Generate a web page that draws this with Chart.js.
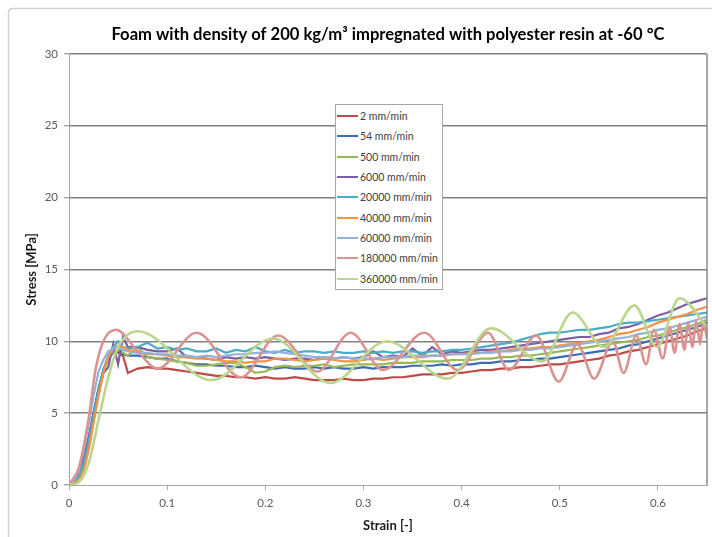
<!DOCTYPE html>
<html>
<head>
<meta charset="utf-8">
<script src="https://cdn.jsdelivr.net/npm/chart.js@4.4.1/dist/chart.umd.min.js"></script>
<style>
  html, body { margin: 0; padding: 0; background: #fff; }
  #wrap { position: relative; width: 712px; height: 537px; }
  #legend {
    position: absolute; left: 335px; top: 104px; width: 108px; height: 186px;
    box-sizing: border-box; border: 1px solid #a6a6a6; background: #fff;
    font: 10.5px Lato, sans-serif; color: #404040; padding-top: 1px;
  }
  .row { height: 20.3px; display: flex; align-items: center; white-space: nowrap; }
  .swatch { width: 21px; height: 2px; margin: 0 2px 0 1px; }
</style>
</head>
<body>
<div id="wrap">
  <canvas id="chart" width="712" height="537"></canvas>
  <div id="legend"></div>
</div>
<script>
// strain grid shared by the smoother curves
const strain = [0, 0.005, 0.01, 0.015, 0.02, 0.025, 0.03, 0.035, 0.04, 0.045, 0.05, 0.055, 0.06,
  0.07, 0.08, 0.09, 0.10, 0.11, 0.12, 0.13, 0.14, 0.15, 0.16,
  0.17, 0.18, 0.19, 0.20, 0.21, 0.22, 0.23, 0.24, 0.25, 0.26,
  0.27, 0.28, 0.29, 0.30, 0.31, 0.32, 0.33, 0.34, 0.35, 0.36,
  0.37, 0.38, 0.39, 0.40, 0.41, 0.42, 0.43, 0.44, 0.45, 0.46,
  0.47, 0.48, 0.49, 0.50, 0.51, 0.52, 0.53, 0.54, 0.55, 0.56,
  0.57, 0.58, 0.59, 0.60, 0.61, 0.62, 0.63, 0.64, 0.65];

const stress2 = [0, 0.2, 0.5, 1.3, 2.8, 4.8, 6.6, 8.0, 8.9, 9.4, 9.2, 9.0, 7.8,
  8.1, 8.2, 8.1, 8.1, 8.0, 7.9, 7.8, 7.7, 7.6, 7.6,
  7.5, 7.5, 7.4, 7.5, 7.4, 7.4, 7.5, 7.4, 7.3, 7.3,
  7.3, 7.4, 7.3, 7.3, 7.4, 7.4, 7.5, 7.5, 7.6, 7.7,
  7.7, 7.7, 7.8, 7.8, 7.9, 8.0, 8.0, 8.1, 8.1, 8.2,
  8.2, 8.3, 8.4, 8.4, 8.5, 8.6, 8.7, 8.8, 9.0, 9.1,
  9.3, 9.4, 9.6, 9.8, 10.0, 10.2, 10.4, 10.7, 10.9];

const stress54 = [0, 0.3, 0.8, 1.8, 3.2, 5.0, 6.7, 8.0, 8.8, 9.2, 9.3, 9.1, 9.0,
  9.0, 8.9, 8.8, 8.8, 8.6, 8.5, 8.4, 8.4, 8.3, 8.3,
  8.2, 8.2, 8.3, 8.2, 8.1, 8.2, 8.1, 8.1, 8.2, 8.1,
  8.2, 8.1, 8.1, 8.2, 8.1, 8.2, 8.2, 8.2, 8.3, 8.3,
  8.3, 8.4, 8.3, 8.4, 8.4, 8.5, 8.5, 8.6, 8.6, 8.7,
  8.7, 8.8, 8.8, 8.9, 9.0, 9.1, 9.2, 9.3, 9.4, 9.5,
  9.7, 9.8, 10.0, 10.2, 10.4, 10.6, 10.8, 11.0, 11.3];

const stress500 = [0, 0.2, 0.5, 1.2, 2.6, 4.5, 6.3, 7.8, 8.8, 9.3, 9.4, 9.2, 9.0,
  9.6, 8.9, 8.8, 8.7, 8.6, 8.5, 8.3, 8.3, 8.4, 8.5,
  8.5, 8.2, 7.8, 7.9, 8.2, 8.3, 8.2, 8.3, 8.3, 8.4,
  8.2, 8.3, 8.4, 8.4, 8.4, 8.4, 8.5, 8.5, 8.5, 8.6,
  8.6, 8.6, 8.7, 8.7, 8.7, 8.8, 8.8, 8.9, 8.9, 9.0,
  9.0, 9.1, 9.2, 9.3, 9.4, 9.5, 9.6, 9.7, 9.8, 9.9,
  10.0, 10.1, 10.3, 10.4, 10.6, 10.8, 11.0, 11.2, 11.5];

const stress6000 = [0, 0.5, 1.0, 1.9, 3.3, 5.0, 6.6, 7.8, 8.2, 9.8, 8.4, 10.3, 9.6,
  9.6, 9.4, 9.3, 9.3, 9.5, 8.9, 8.9, 8.8, 8.7, 8.9,
  8.8, 8.9, 8.8, 8.9, 8.8, 8.7, 8.8, 8.8, 8.7, 8.9,
  8.8, 8.9, 8.8, 8.9, 9.3, 8.9, 9.0, 8.9, 9.5, 9.0,
  9.6, 9.1, 9.3, 9.2, 9.3, 9.4, 9.4, 9.5, 9.6, 9.7,
  9.8, 9.9, 10.0, 10.1, 10.2, 10.3, 10.3, 10.5, 10.6, 10.9,
  11.0, 11.2, 11.5, 11.8, 12.0, 12.3, 12.6, 12.8, 13.0];

const stress20000 = [0, 0.2, 0.6, 1.5, 3.0, 4.8, 6.5, 8.0, 9.0, 9.6, 10.0, 9.6, 9.5,
  9.6, 9.9, 9.5, 9.6, 9.4, 9.5, 9.3, 9.3, 9.5, 9.2,
  9.4, 9.3, 9.6, 9.3, 9.2, 9.4, 9.2, 9.3, 9.3, 9.2,
  9.3, 9.2, 9.2, 9.3, 9.2, 9.3, 9.2, 9.3, 9.3, 9.2,
  9.3, 9.3, 9.4, 9.4, 9.5, 9.6, 9.7, 9.8, 9.9, 10.1,
  10.3, 10.5, 10.6, 10.6, 10.7, 10.8, 10.8, 10.9, 11.0, 11.2,
  11.3, 11.3, 11.4, 11.5, 11.6, 11.7, 11.8, 11.9, 12.0];

const stress40000 = [0, 0.1, 0.3, 1.0, 2.4, 4.3, 6.2, 7.8, 8.9, 9.5, 9.7, 9.6, 9.4,
  9.3, 9.1, 9.1, 9.0, 8.9, 8.9, 8.8, 8.8, 8.7, 8.6,
  8.6, 8.5, 8.6, 8.6, 8.8, 8.8, 8.7, 8.6, 8.7, 8.8,
  8.7, 8.6, 8.6, 8.7, 8.8, 8.7, 8.8, 8.9, 8.9, 8.9,
  9.0, 9.0, 9.1, 9.1, 9.2, 9.2, 9.3, 9.3, 9.4, 9.5,
  9.5, 9.6, 9.6, 9.7, 9.8, 9.9, 10.0, 10.1, 10.3, 10.5,
  10.6, 10.8, 11.0, 11.3, 11.5, 11.7, 11.9, 12.2, 12.4];

const stress60000 = [0, 0.3, 1.0, 2.4, 4.2, 6.2, 7.9, 8.7, 9.3, 9.5, 9.6, 9.4, 9.3,
  9.2, 9.2, 9.1, 9.1, 9.0, 9.0, 8.9, 9.0, 8.9, 9.0,
  9.1, 9.1, 9.2, 9.2, 9.3, 9.2, 9.1, 9.0, 8.9, 8.9,
  8.8, 8.9, 8.8, 8.8, 8.8, 8.9, 8.9, 8.9, 9.0, 9.0,
  9.0, 9.0, 9.1, 9.1, 9.1, 9.2, 9.2, 9.3, 9.3, 9.4,
  9.4, 9.5, 9.5, 9.6, 9.7, 9.8, 9.9, 10.0, 10.1, 10.2,
  10.3, 10.5, 10.6, 10.8, 10.9, 11.1, 11.3, 11.5, 11.7];

// the two fastest tests ring, so their peaks and troughs are listed directly
const strain180000 = [0, 0.01, 0.02, 0.027, 0.035, 0.048, 0.07, 0.09, 0.13, 0.175, 0.213, 0.253,
  0.287, 0.32, 0.362, 0.396, 0.427, 0.448, 0.476, 0.499, 0.518, 0.535, 0.554, 0.565,
  0.578, 0.588, 0.596, 0.605, 0.612, 0.617, 0.622, 0.627, 0.631, 0.635, 0.639, 0.643, 0.646, 0.65];
const stress180000 = [0, 1.2, 4.6, 8.0, 10.0, 10.8, 9.3, 8.1, 10.6, 7.5, 10.4, 7.9,
  10.6, 8.0, 10.6, 8.0, 10.6, 8.0, 10.4, 7.2, 9.8, 7.4, 10.0, 7.8,
  10.4, 8.4, 10.8, 8.8, 11.0, 9.2, 11.2, 9.4, 11.3, 9.6, 11.4, 9.8, 11.4, 10.2];

const strain360000 = [0, 0.01, 0.02, 0.03, 0.04, 0.05, 0.07, 0.145, 0.208, 0.266, 0.324,
  0.386, 0.43, 0.482, 0.513, 0.545, 0.576, 0.599, 0.622, 0.65];
const stress360000 = [0, 0.2, 1.5, 4.5, 7.5, 9.6, 10.7, 7.3, 10.2, 7.1, 10.0,
  7.4, 10.9, 8.6, 12.0, 9.6, 12.5, 9.6, 13.0, 11.0];

const rates = ['2 mm/min', '54 mm/min', '500 mm/min', '6000 mm/min', '20000 mm/min',
  '40000 mm/min', '60000 mm/min', '180000 mm/min', '360000 mm/min'];
const colors = ['#BE4B48', '#3A6DB3', '#98B954', '#7D5FA5', '#4AACC5',
  '#F59343', '#92B1DB', '#D99492', '#BAD68E'];

const xTicks = [0, 0.1, 0.2, 0.3, 0.4, 0.5, 0.6];

function pts(xs, ys) {
  return xs.map((x, i) => ({ x: x, y: ys[i] }));
}

const curves = [
  pts(strain, stress2), pts(strain, stress54), pts(strain, stress500),
  pts(strain, stress6000), pts(strain, stress20000), pts(strain, stress40000),
  pts(strain, stress60000), pts(strain180000, stress180000), pts(strain360000, stress360000)
];

const datasets = curves.map((d, i) => ({
  label: rates[i],
  data: d,
  borderColor: colors[i],
  backgroundColor: colors[i],
  borderWidth: i >= 7 ? 2.6 : 2.2,
  pointRadius: 0,
  tension: 0,
  cubicInterpolationMode: i >= 7 ? 'monotone' : 'default',
  order: 8 - i
}));

// grey frame round the chart plus the right border of the plot
const frame = {
  id: 'frame',
  beforeDraw(chart) {
    const c = chart.ctx;
    c.save();
    c.fillStyle = '#fff';
    c.fillRect(0, 0, chart.width, chart.height);
    c.strokeStyle = '#d2d2d2';
    c.lineWidth = 1.5;
    c.beginPath();
    c.moveTo(8.5, chart.height + 5);
    c.lineTo(8.5, 13);
    c.quadraticCurveTo(8.5, 8.5, 13, 8.5);
    c.lineTo(chart.width + 5, 8.5);
    c.stroke();
    c.restore();
  },
  afterDraw(chart) {
    const a = chart.chartArea;
    const c = chart.ctx;
    c.save();
    c.strokeStyle = '#8a8a8a';
    c.lineWidth = 1.5;
    c.beginPath();
    c.moveTo(a.right, a.top);
    c.lineTo(a.right, a.bottom);
    c.stroke();
    c.restore();
  }
};

const chart = new Chart(document.getElementById('chart'), {
  type: 'line',
  data: { datasets: datasets },
  plugins: [frame],
  options: {
    responsive: false,
    animation: false,
    layout: { padding: { left: 0, right: 5, top: 0, bottom: 0 } },
    plugins: {
      legend: { display: false },
      tooltip: { enabled: false },
      title: {
        display: true,
        fullSize: false,
        text: 'Foam with density of 200 kg/m³ impregnated with polyester resin at -60 °C',
        color: '#000',
        font: { family: 'Lato', size: 16.6, weight: 'bold' },
        padding: { top: 25, bottom: 9 }
      }
    },
    scales: {
      x: {
        type: 'linear',
        min: 0,
        max: 0.65,
        afterFit: s => { s.height = 52; },
        afterBuildTicks: s => { s.ticks = xTicks.map(v => ({ value: v })); },
        ticks: {
          color: '#595959',
          font: { family: 'Lato', size: 11.5 },
          padding: 6,
          callback: v => String(Math.round(v * 10) / 10)
        },
        grid: { drawOnChartArea: false, drawTicks: true, tickLength: 5, tickColor: '#a6a6a6' },
        border: { color: '#a6a6a6', width: 1 },
        title: {
          display: true,
          text: 'Strain [-]',
          color: '#1a1a1a',
          font: { family: 'Lato', size: 13, weight: 'bold' },
          padding: { top: 0, bottom: 3 }
        }
      },
      y: {
        min: 0,
        max: 30,
        afterFit: s => { s.width = 69; },
        ticks: {
          stepSize: 5,
          color: '#595959',
          font: { family: 'Lato', size: 11.5 },
          padding: 6
        },
        grid: {
          color: c => (c.tick && c.tick.value === 0) ? 'rgba(0,0,0,0)' : '#808080',
          lineWidth: 1.4,
          drawTicks: true,
          tickLength: 5,
          tickColor: '#a6a6a6'
        },
        border: { color: '#a6a6a6', width: 1 },
        title: {
          display: true,
          text: 'Stress [MPa]',
          color: '#1a1a1a',
          font: { family: 'Lato', size: 13, weight: 'bold' },
          padding: { top: 24, bottom: 0 }
        }
      }
    }
  }
});

// legend box sitting inside the plot, as in the original
const legendBox = document.getElementById('legend');
chart.data.datasets.forEach(ds => {
  const row = document.createElement('div');
  row.className = 'row';
  const sw = document.createElement('span');
  sw.className = 'swatch';
  sw.style.background = ds.borderColor;
  const txt = document.createElement('span');
  txt.textContent = ds.label;
  row.appendChild(sw);
  row.appendChild(txt);
  legendBox.appendChild(row);
});
</script>
</body>
</html>
